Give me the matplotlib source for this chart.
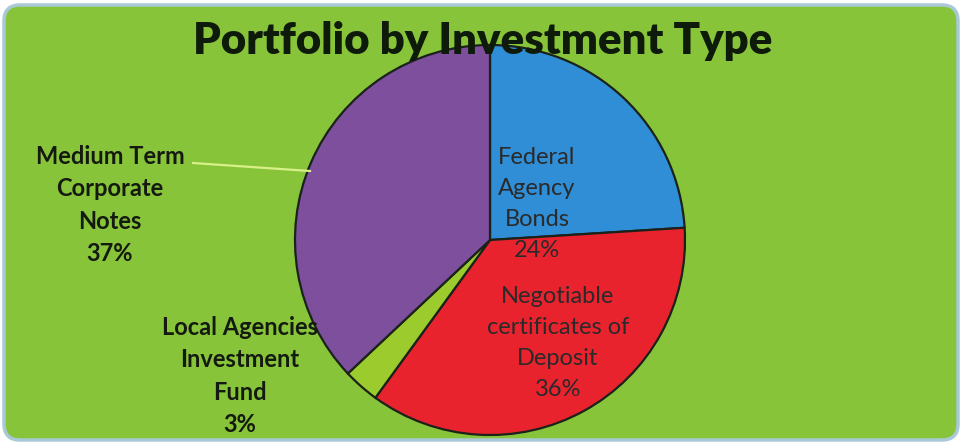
import matplotlib
matplotlib.use("Agg")
import matplotlib.pyplot as plt
import numpy as np
from matplotlib.patches import FancyBboxPatch

categories = ["Federal Agency Bonds", "Negotiable certificates of Deposit",
              "Local Agencies Investment Fund", "Medium Term Corporate Notes"]
values = [24, 36, 3, 37]
label_texts = ["Federal\nAgency\nBonds\n24%", "Negotiable\ncertificates of\nDeposit\n36%",
               "Local Agencies\nInvestment\nFund\n3%", "Medium Term\nCorporate\nNotes\n37%"]
colors = ["#2F8ED6", "#E8232E", "#9CCB2E", "#7D4F9D"]
title = "Portfolio by Investment Type"

W, H = 964, 443
fig = plt.figure(figsize=(W / 100, H / 100), dpi=100)
fig.patch.set_facecolor("white")
ax = fig.add_axes([0, 0, 1, 1])
ax.set_xlim(0, W)
ax.set_ylim(0, H)
ax.axis("off")

# background panel
bg = FancyBboxPatch((4, 3), W - 10, H - 8, boxstyle="round,pad=0,rounding_size=16",
                    facecolor="#87C43A", edgecolor="#A9C9D6", linewidth=2.5, zorder=0)
ax.add_patch(bg)

cx, cy, r = 490, H - 240, 195
wedges, _ = ax.pie(values, colors=colors, startangle=90, counterclock=False,
                   center=(cx, cy), radius=r, frame=True,
                   wedgeprops=dict(edgecolor="#1A221A", linewidth=1.6))
ax.set_xlim(0, W)
ax.set_ylim(0, H)
ax.set_aspect("equal")
ax.axis("off")

fam = ["Lato", "DejaVu Sans"]
ax.text(483, H - 41, title, ha="center", va="center", fontsize=31.5,
        fontweight="heavy", family=fam, color="#0E1A0A", zorder=5)

# inside labels
ax.text(537, H - 204, label_texts[0], ha="center", va="center", fontsize=17,
        family=fam, color="#2A2A2A", linespacing=1.6, zorder=5)
ax.text(558, H - 343, label_texts[1], ha="center", va="center", fontsize=17,
        family=fam, color="#2A2A2A", linespacing=1.6, zorder=5)
# outside labels
ax.text(240, H - 376, label_texts[2], ha="center", va="center", fontsize=17,
        family=fam, fontweight="bold", color="#141A10", linespacing=1.48, zorder=5)
ax.text(110, H - 205, label_texts[3], ha="center", va="center", fontsize=17,
        family=fam, fontweight="bold", color="#141A10", linespacing=1.48, zorder=5)

# leader line
ax.plot([193, 310], [H - 163, H - 171], color="#D9F08A", linewidth=1.6, zorder=4)

fig.savefig("out.png", dpi=100, facecolor=fig.get_facecolor())
